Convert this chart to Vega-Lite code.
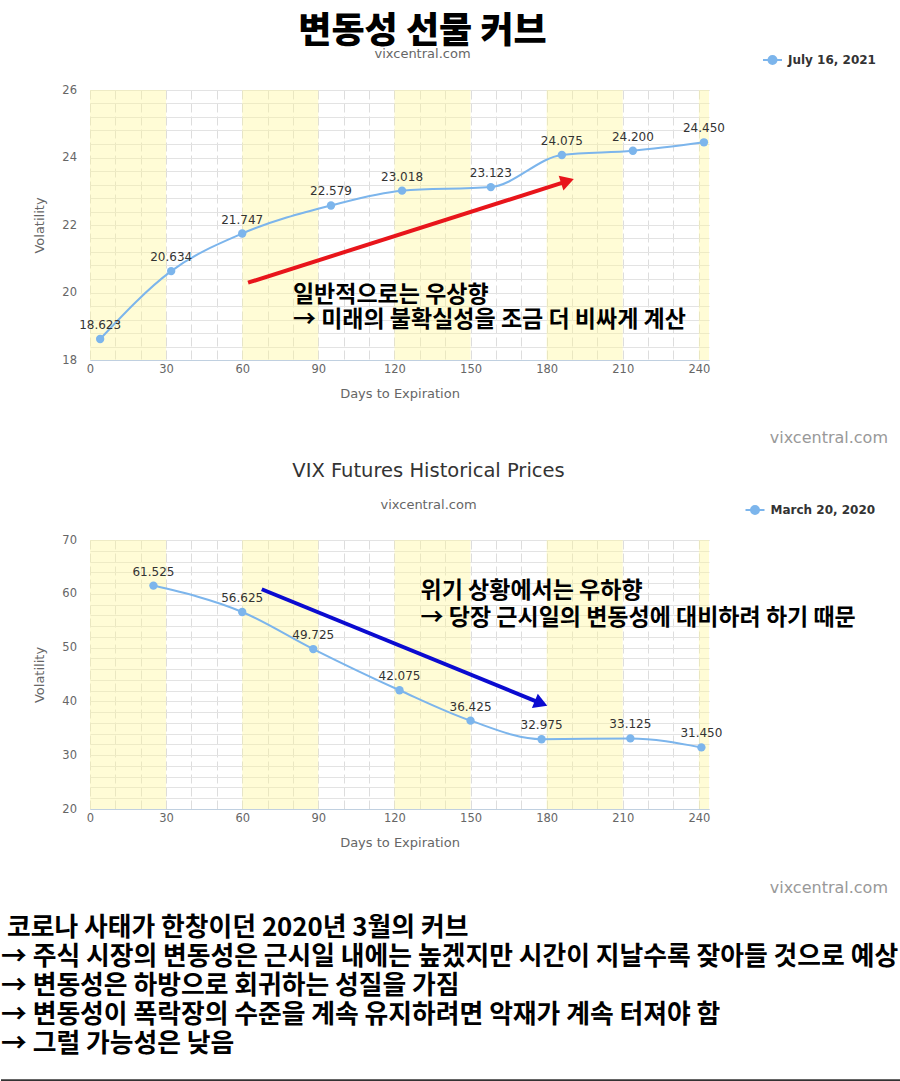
{
  "$schema": "https://vega.github.io/schema/vega-lite/v6.json",
  "background": "#ffffff",
  "padding": {"left": 0, "top": 14, "right": 0, "bottom": 0},
  "autosize": {"type": "pad"},
  "bounds": "flush",
  "spacing": 87,
  "resolve": {"scale": {"color": "independent"}, "legend": {"color": "independent"}},
  "config": {
    "view": {"stroke": null},
    "font": "DejaVu Sans",
    "axis": {"labelFont": "DejaVu Sans", "labelFontSize": 11.5, "labelColor": "#666666", "titleFont": "DejaVu Sans", "titleFontSize": 13, "titleFontWeight": "normal", "titleColor": "#666666", "ticks": false, "labelFlush": false},
    "legend": {"padding": 0}
  },
  "datasets": {
    "bands": [
      {"days": 0, "days2": 30}, {"days": 60, "days2": 90}, {"days": 120, "days2": 150}, {"days": 180, "days2": 210}, {"days": 240, "days2": 244}
    ],
    "c1": [
      {"days": 4, "vol": 18.623, "series": "July 16, 2021"},
      {"days": 32, "vol": 20.634, "series": "July 16, 2021"},
      {"days": 60, "vol": 21.747, "series": "July 16, 2021"},
      {"days": 95, "vol": 22.579, "series": "July 16, 2021"},
      {"days": 123, "vol": 23.018, "series": "July 16, 2021"},
      {"days": 158, "vol": 23.123, "series": "July 16, 2021"},
      {"days": 186, "vol": 24.075, "series": "July 16, 2021"},
      {"days": 214, "vol": 24.2, "series": "July 16, 2021"},
      {"days": 242, "vol": 24.45, "series": "July 16, 2021"}
    ],
    "c2": [
      {"days": 25, "vol": 61.525, "series": "March 20, 2020"},
      {"days": 60, "vol": 56.625, "series": "March 20, 2020"},
      {"days": 88, "vol": 49.725, "series": "March 20, 2020"},
      {"days": 122, "vol": 42.075, "series": "March 20, 2020"},
      {"days": 150, "vol": 36.425, "series": "March 20, 2020"},
      {"days": 178, "vol": 32.975, "series": "March 20, 2020"},
      {"days": 213, "vol": 33.125, "series": "March 20, 2020"},
      {"days": 241, "vol": 31.45, "series": "March 20, 2020"}
    ],
    "para": [
      {"line": 1, "text": "코로나 사태가 한창이던 2020년 3월의 커브"},
      {"line": 2, "text": "→ 주식 시장의 변동성은 근시일 내에는 높겠지만 시간이 지날수록 잦아들 것으로 예상"},
      {"line": 3, "text": "→ 변동성은 하방으로 회귀하는 성질을 가짐"},
      {"line": 4, "text": "→ 변동성이 폭락장의 수준을 계속 유지하려면 악재가 계속 터져야 함"},
      {"line": 5, "text": "→ 그럴 가능성은 낮음"}
    ]
  },
  "vconcat": [
    {
      "width": 619,
      "height": 270,
      "title": {"text": "변동성 선물 커브", "subtitle": "vixcentral.com", "frame": "group", "anchor": "middle", "dx": 23, "offset": -8, "font": "Noto Sans CJK KR", "fontSize": 36, "fontWeight": 900, "color": "#000000", "subtitleFont": "DejaVu Sans", "subtitleFontSize": 13, "subtitleColor": "#666666", "subtitlePadding": -3},
      "encoding": {
        "x": {"field": "days", "type": "quantitative", "title": "Days to Expiration", "scale": {"domain": [0, 244], "nice": false, "zero": false},
          "axis": {"values": [0, 10, 20, 30, 40, 50, 60, 70, 80, 90, 100, 110, 120, 130, 140, 150, 160, 170, 180, 190, 200, 210, 220, 230, 240], "labelExpr": "datum.value % 30 === 0 ? datum.label : ''", "grid": true, "gridColor": "#DDDDDD", "gridDash": [9, 4], "domainColor": "#C0D0E0", "labelPadding": 3, "titlePadding": 13}}
      },
      "resolve": {"axis": {"y": "independent"}},
      "layer": [
        {"data": {"name": "c1"}, "mark": {"type": "point", "opacity": 0},
          "encoding": {"y": {"field": "vol", "type": "quantitative", "scale": {"domain": [18, 26], "nice": false, "zero": false},
            "axis": {"orient": "left", "values": [18, 18.4, 18.8, 19.2, 19.6, 20, 20.4, 20.8, 21.2, 21.6, 22, 22.4, 22.8, 23.2, 23.6, 24, 24.4, 24.8, 25.2, 25.6, 26], "labels": false, "ticks": false, "domain": false, "title": null, "grid": true, "gridColor": "#E3E3E3"}}}},
        {"layer": [
          {"data": {"name": "bands"}, "mark": {"type": "rect", "fill": "#FFF899", "opacity": 0.4}, "encoding": {"x2": {"field": "days2"}}},
          {"data": {"name": "c1"}, "mark": {"type": "line", "interpolate": "monotone", "strokeWidth": 2},
            "encoding": {
              "y": {"field": "vol", "type": "quantitative", "title": "Volatility", "scale": {"domain": [18, 26], "nice": false, "zero": false},
                "axis": {"orient": "left", "values": [18, 20, 22, 24, 26], "grid": true, "gridColor": "#E3E3E3", "domain": false, "labelPadding": 13.5, "titlePadding": 15}},
              "color": {"field": "series", "type": "nominal", "scale": {"domain": ["July 16, 2021"], "range": ["#7CB5EC"]},
                "legend": {"title": null, "orient": "none", "legendX": 676.5, "legendY": -36, "labelFont": "DejaVu Sans", "labelFontSize": 12, "labelFontWeight": "bold", "labelColor": "#333333", "labelOffset": 9.5, "symbolType": "M-1.9,0L1.9,0M0.8,0A0.8,0.8,0,1,1,-0.8,0A0.8,0.8,0,1,1,0.8,0", "symbolSize": 100, "symbolStrokeWidth": 2, "symbolFillColor": "#7CB5EC", "symbolStrokeColor": "#7CB5EC", "symbolOpacity": 1,
                  "encode": {"symbols": {"update": {"fill": {"value": "#7CB5EC"}, "stroke": {"value": "#7CB5EC"}, "strokeWidth": {"value": 2}, "opacity": {"value": 1}}}}}}
            }},
          {"data": {"name": "c1"}, "mark": {"type": "point", "shape": "circle", "filled": true, "size": 70, "opacity": 1},
            "encoding": {"y": {"field": "vol", "type": "quantitative", "title": "Volatility"}, "color": {"field": "series", "type": "nominal"}}},
          {"data": {"name": "c1"}, "mark": {"type": "text", "dy": -14, "fontSize": 12, "color": "#333333", "font": "DejaVu Sans"},
            "encoding": {"y": {"field": "vol", "type": "quantitative", "title": "Volatility"}, "text": {"field": "vol", "type": "quantitative", "format": ".3f"}}},
          {"data": {"values": [{"days": 62.3, "vol": 20.29, "days2": 188.2, "vol2": 23.3}]}, "mark": {"type": "rule", "color": "#E8151B", "strokeWidth": 4},
            "encoding": {"x2": {"field": "days2"}, "y": {"field": "vol", "type": "quantitative", "title": "Volatility"}, "y2": {"field": "vol2"}}},
          {"data": {"values": [{"days": 188.2, "vol": 23.3}]}, "mark": {"type": "point", "shape": "triangle-right", "angle": 342.3, "filled": true, "size": 240, "color": "#E8151B", "opacity": 1},
            "encoding": {"y": {"field": "vol", "type": "quantitative", "title": "Volatility"}}},
          {"data": {"values": [{"days": 80, "vol": 19.93, "label": "일반적으로는 우상향"}, {"days": 80, "vol": 19.19, "label": "→ 미래의 불확실성을 조금 더 비싸게 계산"}]},
            "mark": {"type": "text", "align": "left", "baseline": "middle", "font": "Noto Sans CJK KR", "fontSize": 23, "fontWeight": "bold", "color": "#000000"},
            "encoding": {"y": {"field": "vol", "type": "quantitative", "title": "Volatility"}, "text": {"field": "label"}}}
        ]}
      ]
    },
    {
      "width": 811,
      "height": 6,
      "data": {"values": [{"t": "vixcentral.com"}]},
      "mark": {"type": "text", "align": "right", "baseline": "middle", "dx": -13, "dy": -12, "font": "DejaVu Sans", "fontSize": 16, "color": "#999999"},
      "encoding": {"x": {"datum": 1, "type": "quantitative", "scale": {"domain": [0, 1], "range": [-89, 811]}, "axis": null}, "text": {"field": "t"}}
    },
    {
      "width": 619,
      "height": 269,
      "title": {"text": "VIX Futures Historical Prices", "subtitle": "vixcentral.com", "frame": "group", "anchor": "middle", "dx": 29, "offset": -9, "font": "DejaVu Sans", "fontSize": 19.5, "fontWeight": "normal", "color": "#333333", "subtitleFont": "DejaVu Sans", "subtitleFontSize": 13, "subtitleColor": "#666666", "subtitlePadding": 18},
      "encoding": {
        "x": {"field": "days", "type": "quantitative", "title": "Days to Expiration", "scale": {"domain": [0, 244], "nice": false, "zero": false},
          "axis": {"values": [0, 10, 20, 30, 40, 50, 60, 70, 80, 90, 100, 110, 120, 130, 140, 150, 160, 170, 180, 190, 200, 210, 220, 230, 240], "labelExpr": "datum.value % 30 === 0 ? datum.label : ''", "grid": true, "gridColor": "#DDDDDD", "gridDash": [9, 4], "domainColor": "#C0D0E0", "labelPadding": 3, "titlePadding": 13}}
      },
      "resolve": {"axis": {"y": "independent"}},
      "layer": [
        {"data": {"name": "c2"}, "mark": {"type": "point", "opacity": 0},
          "encoding": {"y": {"field": "vol", "type": "quantitative", "scale": {"domain": [20, 70], "nice": false, "zero": false},
            "axis": {"orient": "left", "values": [20, 22, 24, 26, 28, 30, 32, 34, 36, 38, 40, 42, 44, 46, 48, 50, 52, 54, 56, 58, 60, 62, 64, 66, 68, 70], "labels": false, "ticks": false, "domain": false, "title": null, "grid": true, "gridColor": "#E3E3E3"}}}},
        {"layer": [
          {"data": {"name": "bands"}, "mark": {"type": "rect", "fill": "#FFF899", "opacity": 0.4}, "encoding": {"x2": {"field": "days2"}}},
          {"data": {"name": "c2"}, "mark": {"type": "line", "interpolate": "monotone", "strokeWidth": 2},
            "encoding": {
              "y": {"field": "vol", "type": "quantitative", "title": "Volatility", "scale": {"domain": [20, 70], "nice": false, "zero": false},
                "axis": {"orient": "left", "values": [20, 30, 40, 50, 60, 70], "grid": true, "gridColor": "#E3E3E3", "domain": false, "labelPadding": 13.5, "titlePadding": 15}},
              "color": {"field": "series", "type": "nominal", "scale": {"domain": ["March 20, 2020"], "range": ["#7CB5EC"]},
                "legend": {"title": null, "orient": "none", "legendX": 659, "legendY": -36, "labelFont": "DejaVu Sans", "labelFontSize": 12, "labelFontWeight": "bold", "labelColor": "#333333", "labelOffset": 9.5, "symbolType": "M-1.9,0L1.9,0M0.8,0A0.8,0.8,0,1,1,-0.8,0A0.8,0.8,0,1,1,0.8,0", "symbolSize": 100, "symbolStrokeWidth": 2, "symbolFillColor": "#7CB5EC", "symbolStrokeColor": "#7CB5EC", "symbolOpacity": 1,
                  "encode": {"symbols": {"update": {"fill": {"value": "#7CB5EC"}, "stroke": {"value": "#7CB5EC"}, "strokeWidth": {"value": 2}, "opacity": {"value": 1}}}}}}
            }},
          {"data": {"name": "c2"}, "mark": {"type": "point", "shape": "circle", "filled": true, "size": 70, "opacity": 1},
            "encoding": {"y": {"field": "vol", "type": "quantitative", "title": "Volatility"}, "color": {"field": "series", "type": "nominal"}}},
          {"data": {"name": "c2"}, "mark": {"type": "text", "dy": -14, "fontSize": 12, "color": "#333333", "font": "DejaVu Sans"},
            "encoding": {"y": {"field": "vol", "type": "quantitative", "title": "Volatility"}, "text": {"field": "vol", "type": "quantitative", "format": ".3f"}}},
          {"data": {"values": [{"days": 67.7, "vol": 60.85, "days2": 177.8, "vol2": 39.64}]}, "mark": {"type": "rule", "color": "#0B0BD0", "strokeWidth": 4},
            "encoding": {"x2": {"field": "days2"}, "y": {"field": "vol", "type": "quantitative", "title": "Volatility"}, "y2": {"field": "vol2"}}},
          {"data": {"values": [{"days": 177.8, "vol": 39.64}]}, "mark": {"type": "point", "shape": "triangle-right", "angle": 22.2, "filled": true, "size": 240, "color": "#0B0BD0", "opacity": 1},
            "encoding": {"y": {"field": "vol", "type": "quantitative", "title": "Volatility"}}},
          {"data": {"values": [{"days": 130.3, "vol": 60.44, "label": "위기 상황에서는 우하향"}, {"days": 130.3, "vol": 55.43, "label": "→ 당장 근시일의 변동성에 대비하려 하기 때문"}]},
            "mark": {"type": "text", "align": "left", "baseline": "middle", "font": "Noto Sans CJK KR", "fontSize": 23, "fontWeight": "bold", "color": "#000000"},
            "encoding": {"y": {"field": "vol", "type": "quantitative", "title": "Volatility"}, "text": {"field": "label"}}}
        ]}
      ]
    },
    {
      "width": 811,
      "height": 190,
      "layer": [
        {"data": {"values": [{"t": "vixcentral.com"}]},
          "mark": {"type": "text", "align": "right", "baseline": "bottom", "dx": -13, "font": "DejaVu Sans", "fontSize": 16, "color": "#999999"},
          "encoding": {"x": {"datum": 1, "type": "quantitative", "scale": {"domain": [0, 1], "range": [-89, 811], "nice": false}, "axis": null}, "y": {"datum": 0, "type": "quantitative", "scale": {"domain": [0, 6.55], "reverse": true, "nice": false, "zero": false}, "axis": null}, "text": {"field": "t"}}},
        {"data": {"name": "para"}, "transform": [{"filter": "datum.line === 1"}],
          "mark": {"type": "text", "align": "left", "baseline": "middle", "dx": 6, "dy": 3, "font": "Noto Sans CJK KR", "fontSize": 25.8, "fontWeight": "bold", "color": "#000000"},
          "encoding": {"x": {"datum": 0, "type": "quantitative"}, "y": {"field": "line", "type": "quantitative"}, "text": {"field": "text"}}},
        {"data": {"name": "para"}, "transform": [{"filter": "datum.line > 1"}],
          "mark": {"type": "text", "align": "left", "baseline": "middle", "dy": 3, "font": "Noto Sans CJK KR", "fontSize": 25.8, "fontWeight": "bold", "color": "#000000"},
          "encoding": {"x": {"datum": 0, "type": "quantitative"}, "y": {"field": "line", "type": "quantitative"}, "text": {"field": "text"}}},
        {"data": {"values": [{"t": "rule"}]},
          "mark": {"type": "rule", "color": "#333333", "strokeWidth": 2},
          "encoding": {"x": {"datum": 0, "type": "quantitative"}, "x2": {"datum": 1}, "y": {"datum": 6.35, "type": "quantitative"}}}
      ]
    }
  ]
}
